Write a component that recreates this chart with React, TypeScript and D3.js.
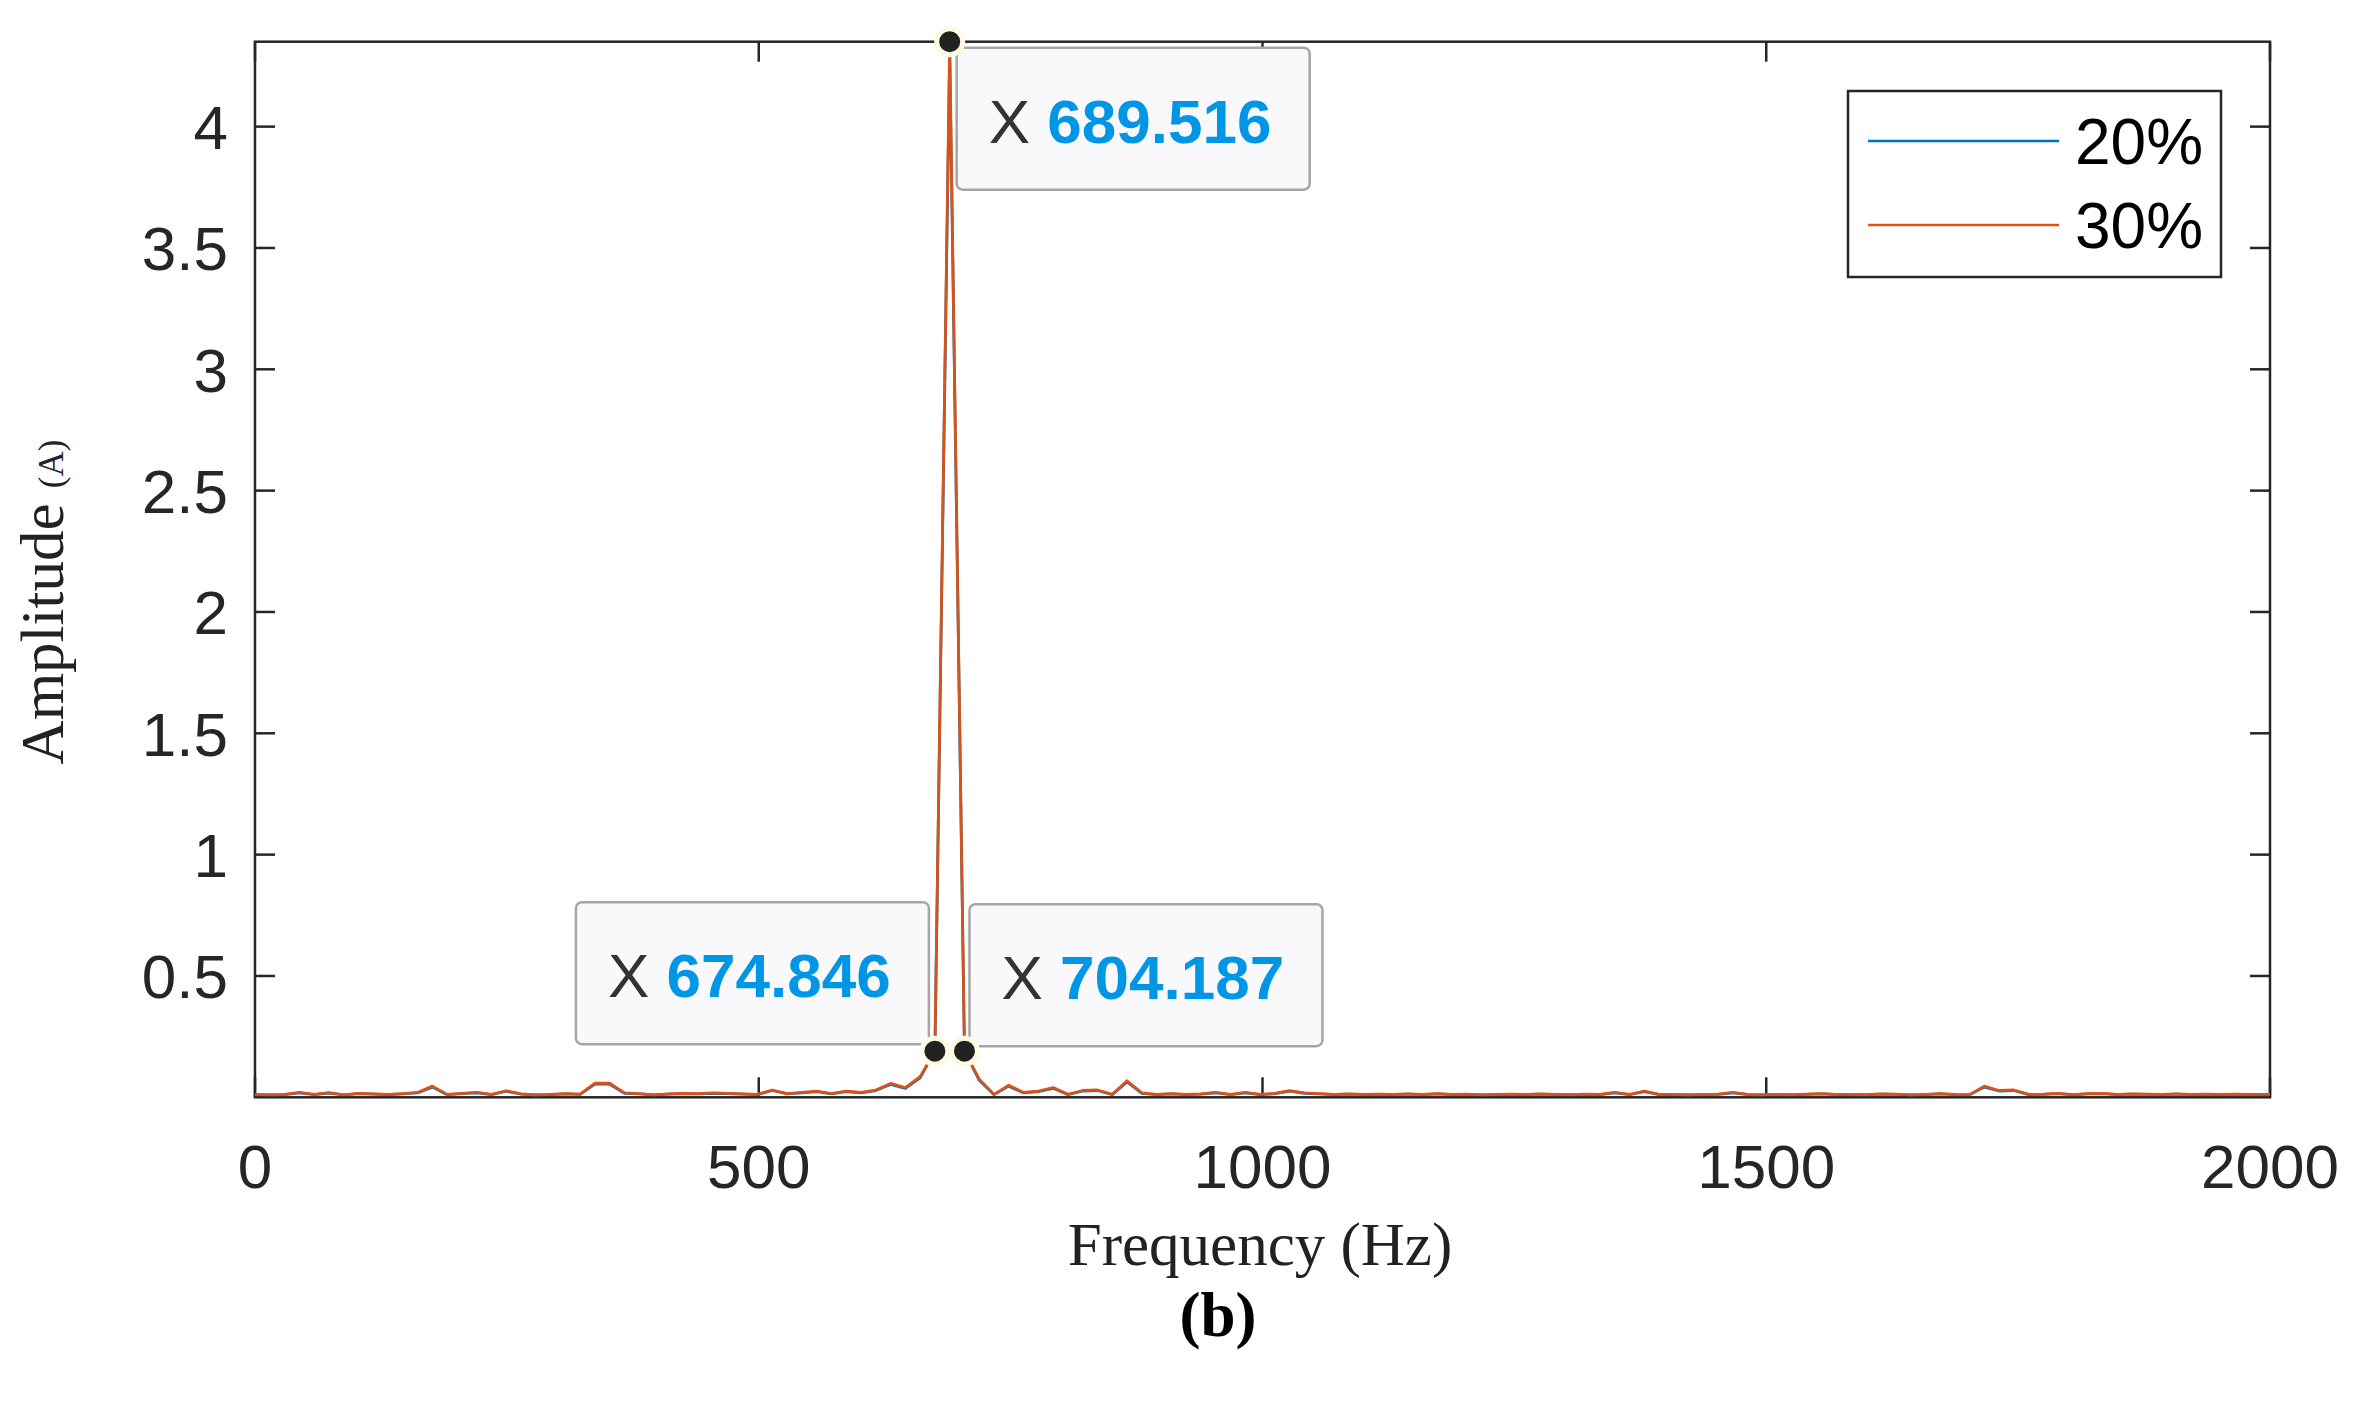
import React from "react";
import * as d3 from "d3";

const W = 2357;
const H = 1401;

const freqStep = 14.6706;
const xTicks = [0, 500, 1000, 1500, 2000];
const yTicks = [0.5, 1, 1.5, 2, 2.5, 3, 3.5, 4];
const seriesNames = ["20%", "30%"];
const seriesColors = ["#0072BD", "#D95319"];

// amplitude per FFT bin (bin k at k * freqStep Hz)
const amp30 = [
  0.012, 0.010, 0.012, 0.020, 0.012, 0.019, 0.010, 0.016, 0.014, 0.012,
  0.015, 0.020, 0.046, 0.012, 0.016, 0.020, 0.012, 0.027, 0.014, 0.010,
  0.012, 0.015, 0.013, 0.058, 0.058, 0.018, 0.015, 0.010, 0.014, 0.016,
  0.015, 0.018, 0.016, 0.014, 0.012, 0.030, 0.015, 0.020, 0.025, 0.015,
  0.025, 0.020, 0.030, 0.057, 0.040, 0.085, 0.190, 4.350, 0.190, 0.075,
  0.012, 0.050, 0.020, 0.025, 0.040, 0.012, 0.028, 0.030, 0.012, 0.068,
  0.018, 0.012, 0.015, 0.012, 0.014, 0.020, 0.012, 0.020, 0.012, 0.016,
  0.027, 0.018, 0.015, 0.012, 0.014, 0.012, 0.013, 0.012, 0.014, 0.012,
  0.015, 0.012, 0.013, 0.010, 0.012, 0.013, 0.012, 0.014, 0.012, 0.011,
  0.013, 0.012, 0.020, 0.012, 0.025, 0.012, 0.012, 0.010, 0.012, 0.013,
  0.020, 0.012, 0.010, 0.012, 0.011, 0.013, 0.015, 0.012, 0.012, 0.011,
  0.014, 0.013, 0.010, 0.012, 0.015, 0.012, 0.011, 0.046, 0.028, 0.030,
  0.012, 0.013, 0.016, 0.011, 0.015, 0.016, 0.012, 0.014, 0.013, 0.012,
  0.014, 0.012, 0.013, 0.012, 0.013, 0.012, 0.012, 0.012,
];

const amp20 = [
  0.011, 0.010, 0.011, 0.018, 0.011, 0.017, 0.010, 0.015, 0.013, 0.011,
  0.014, 0.018, 0.042, 0.011, 0.015, 0.018, 0.011, 0.025, 0.013, 0.010,
  0.011, 0.014, 0.012, 0.054, 0.054, 0.016, 0.014, 0.010, 0.013, 0.015,
  0.014, 0.016, 0.015, 0.013, 0.011, 0.028, 0.014, 0.018, 0.023, 0.014,
  0.023, 0.018, 0.028, 0.053, 0.037, 0.080, 0.190, 4.300, 0.190, 0.070,
  0.011, 0.046, 0.018, 0.023, 0.037, 0.011, 0.026, 0.028, 0.011, 0.063,
  0.016, 0.011, 0.014, 0.011, 0.013, 0.018, 0.011, 0.018, 0.011, 0.015,
  0.025, 0.016, 0.014, 0.011, 0.013, 0.011, 0.012, 0.011, 0.013, 0.011,
  0.014, 0.011, 0.012, 0.010, 0.011, 0.012, 0.011, 0.013, 0.011, 0.010,
  0.012, 0.011, 0.018, 0.011, 0.023, 0.011, 0.011, 0.010, 0.011, 0.012,
  0.018, 0.011, 0.010, 0.011, 0.010, 0.012, 0.014, 0.011, 0.011, 0.010,
  0.013, 0.012, 0.010, 0.011, 0.014, 0.011, 0.010, 0.042, 0.026, 0.028,
  0.011, 0.012, 0.015, 0.010, 0.014, 0.015, 0.011, 0.013, 0.012, 0.011,
  0.013, 0.011, 0.012, 0.011, 0.012, 0.011, 0.011, 0.011,
];

const tipFreqs = [689.516, 674.846, 704.187];
const tipAmps = [4.35, 0.19, 0.19];
const tipSides = ["right-below", "left-above", "right-above"];

const ML = 255, MR = 2270, MT = 41.7, MB = 1097.3;

export default function App() {
  const x = d3.scaleLinear().domain([0, 2000]).range([ML, MR]);
  const y = d3.scaleLinear().domain([0, 4.35]).range([MB, MT]);
  const line = d3
    .line<number>()
    .x((_, i) => x(i * freqStep))
    .y((v) => y(v));

  const tickLen = 20;
  const axisColor = "#262626";
  const sansFont = "'Liberation Sans', Arial, sans-serif";
  const serifFont = "'Liberation Serif', 'Times New Roman', serif";

  const boxW = 353;
  const boxH = 142;

  return (
    <svg
      width={W}
      height={H}
      style={{ position: "absolute", left: 0, top: 0, background: "#fff" }}
      xmlns="http://www.w3.org/2000/svg"
    >
      <defs>
        <clipPath id="plotClip">
          <rect x={ML} y={MT - 20} width={MR - ML} height={MB - MT + 20} />
        </clipPath>
      </defs>
      <rect x={0} y={0} width={W} height={H} fill="#fff" />

      {/* axes box */}
      <rect x={ML} y={MT} width={MR - ML} height={MB - MT} fill="none" stroke={axisColor} strokeWidth={2.5} />

      {/* x ticks */}
      {xTicks.map((t) => (
        <g key={"xt" + t}>
          <line x1={x(t)} x2={x(t)} y1={MB} y2={MB - tickLen} stroke={axisColor} strokeWidth={2.5} />
          <line x1={x(t)} x2={x(t)} y1={MT} y2={MT + tickLen} stroke={axisColor} strokeWidth={2.5} />
          <text x={x(t)} y={1188} textAnchor="middle" fontFamily={sansFont} fontSize={62} fill="#262626">
            {t}
          </text>
        </g>
      ))}

      {/* y ticks */}
      {yTicks.map((t) => (
        <g key={"yt" + t}>
          <line x1={ML} x2={ML + tickLen} y1={y(t)} y2={y(t)} stroke={axisColor} strokeWidth={2.5} />
          <line x1={MR} x2={MR - tickLen} y1={y(t)} y2={y(t)} stroke={axisColor} strokeWidth={2.5} />
          <text x={228} y={y(t)} dy="0.36em" textAnchor="end" fontFamily={sansFont} fontSize={62} fill="#262626">
            {t}
          </text>
        </g>
      ))}

      {/* series */}
      <g clipPath="url(#plotClip)">
        <path d={line(amp20) || ""} fill="none" stroke={seriesColors[0]} strokeWidth={2.8} strokeLinejoin="round" />
        <path d={line(amp30) || ""} fill="none" stroke={seriesColors[1]} strokeWidth={2.8} strokeLinejoin="round" />
      </g>

      {/* legend */}
      <rect x={1848} y={91} width={373} height={186} fill="#fff" stroke={axisColor} strokeWidth={2.5} />
      {seriesNames.map((n, i) => (
        <g key={n}>
          <line x1={1868} x2={2059} y1={141 + i * 84} y2={141 + i * 84} stroke={seriesColors[i]} strokeWidth={2.6} />
          <text x={2075} y={141 + i * 84} dy="0.36em" fontFamily={sansFont} fontSize={64} fill="#000">
            {n}
          </text>
        </g>
      ))}

      {/* data tips */}
      {tipFreqs.map((f, i) => {
        const mx = x(f);
        const my = y(tipAmps[i]);
        const side = tipSides[i];
        let bx = mx + 7;
        let by = my + 6;
        if (side === "left-above") {
          bx = mx - 6 - boxW;
          by = my - 7 - boxH;
        } else if (side === "right-above") {
          bx = mx + 5;
          by = my - 5 - boxH;
        }
        return (
          <g key={"tip" + i}>
            <rect x={bx} y={by} width={boxW} height={boxH} rx={6} fill="#f9f9fc" stroke="#a6a6a6" strokeWidth={2.5} />
            <text x={bx + 32} y={by + 95} fontFamily={sansFont} fontSize={62}>
              <tspan fill="#333333">X </tspan>
              <tspan fill="#0096E6" fontWeight="bold">{f.toFixed(3)}</tspan>
            </text>
          </g>
        );
      })}
      {tipFreqs.map((f, i) => (
        <circle key={"m" + i} cx={x(f)} cy={y(tipAmps[i])} r={13} fill="#222" stroke="#fffbe3" strokeWidth={5} />
      ))}

      {/* axis labels */}
      <text x={1260} y={1265} textAnchor="middle" fontFamily={serifFont} fontSize={61} fill="#222">
        Frequency (Hz)
      </text>
      <text
        transform={`translate(63, 602) rotate(-90)`}
        textAnchor="middle"
        fontFamily={serifFont}
        fontSize={61}
        fill="#222"
      >
        Amplitude <tspan fontSize={35}>(A)</tspan>
      </text>
      <text x={1218} y={1336} textAnchor="middle" fontFamily={serifFont} fontSize={63} fontWeight="bold" fill="#000">
        (b)
      </text>
    </svg>
  );
}
